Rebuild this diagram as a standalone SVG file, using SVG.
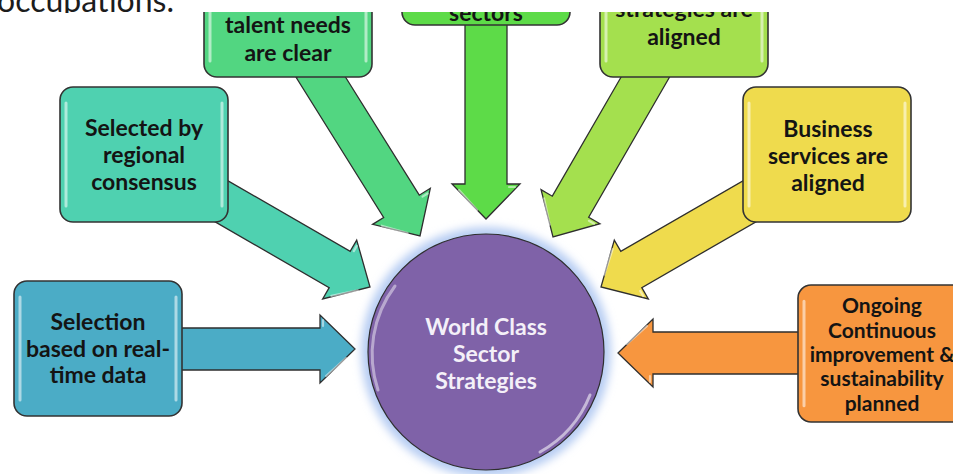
<svg xmlns="http://www.w3.org/2000/svg" xmlns:xlink="http://www.w3.org/1999/xlink" width="953" height="474" viewBox="0 0 953 474">
  <style>
    .lbl{font-family:Lato,"Open Sans","Liberation Sans",sans-serif;font-weight:700;font-size:23px;fill:#141414;text-anchor:middle}
    .small{font-size:21px}
    .hub{fill:#f4f0f8;font-size:23px}
    .head{font-family:Lato,"Open Sans","Liberation Sans",sans-serif;font-size:32px;fill:#1c1c1c}
    .edge{stroke:#2e2e2e;stroke-width:1.3;stroke-linejoin:miter}
    .box{stroke:#333;stroke-width:1.6}
  </style>
  <defs>
    <clipPath id="stage"><rect x="0" y="12" width="953" height="462"/></clipPath>
    <clipPath id="topline"><rect x="0" y="0" width="953" height="13"/></clipPath>
    <!-- block arrow pointing along +x with its tip at the origin, plus a glint on the head -->
    <g id="arrow">
      <path d="M-200,-21H-35V-34L0,0L-35,34V21H-200Z"/>
      <path d="M-29,27L-9,9M-32,-29V-23" stroke="#ffffff" stroke-opacity="0.5" stroke-width="2.2" stroke-linecap="round" fill="none"/>
    </g>
    <!-- rounded card with glossy side bevels -->
    <g id="card">
      <rect width="168" height="135" rx="13"/>
      <path d="M6,16V119M162,16V119" stroke="#ffffff" stroke-opacity="0.55" stroke-width="3" stroke-linecap="round" fill="none"/>
    </g>
    <filter id="halo" x="-20%" y="-20%" width="140%" height="140%">
      <feGaussianBlur stdDeviation="4.5"/>
    </filter>
  </defs>

  <text class="head" x="-3" y="12" clip-path="url(#topline)">occupations.</text>

  <g clip-path="url(#stage)">
    <g id="connectors">
      <use xlink:href="#arrow" class="edge" fill="#4bacc6" transform="translate(355,349)"/>
      <use xlink:href="#arrow" class="edge" fill="#4fd1b0" transform="translate(370,287) rotate(30)"/>
      <use xlink:href="#arrow" class="edge" fill="#52d681" transform="translate(420,236) rotate(58)"/>
      <use xlink:href="#arrow" class="edge" fill="#5ddb48" transform="translate(486,219) rotate(90)"/>
      <use xlink:href="#arrow" class="edge" fill="#a4e04e" transform="translate(553,237) rotate(120)"/>
      <use xlink:href="#arrow" class="edge" fill="#efdb4d" transform="translate(601,287) rotate(150)"/>
      <use xlink:href="#arrow" class="edge" fill="#f7963f" transform="translate(618,353) rotate(180)"/>
    </g>

    <g id="hub">
      <circle cx="486" cy="352" r="125" fill="#b7cdf3" filter="url(#halo)"/>
      <circle cx="486" cy="352" r="118" fill="#7f62a8" stroke="#2e2e2e" stroke-width="1.2"/>
      <path d="M378,390 A113,113 0 0 1 395,286" fill="none" stroke="#ffffff" stroke-opacity="0.45" stroke-width="3" stroke-linecap="round"/>
      <path d="M590,395 A113,113 0 0 1 540,452" fill="none" stroke="#ffffff" stroke-opacity="0.55" stroke-width="3" stroke-linecap="round"/>
      <text class="lbl hub" x="486" y="335">World Class</text>
      <text class="lbl hub" x="486" y="362">Sector</text>
      <text class="lbl hub" x="486" y="389">Strategies</text>
    </g>

    <g id="node-realtime">
      <use xlink:href="#card" class="box" fill="#4bacc6" transform="translate(14,281)"/>
      <text class="lbl" x="98" y="330">Selection</text>
      <text class="lbl" x="98" y="357">based on real-</text>
      <text class="lbl" x="98" y="383">time data</text>
    </g>

    <g id="node-consensus">
      <use xlink:href="#card" class="box" fill="#4fd1b0" transform="translate(60,87)"/>
      <text class="lbl" x="144" y="136">Selected by</text>
      <text class="lbl" x="144" y="163">regional</text>
      <text class="lbl" x="144" y="190">consensus</text>
    </g>

    <g id="node-talent">
      <use xlink:href="#card" class="box" fill="#52d681" transform="translate(204,-58)"/>
      <text class="lbl" x="288" y="33">talent needs</text>
      <text class="lbl" x="288" y="61">are clear</text>
    </g>

    <g id="node-sectors">
      <use xlink:href="#card" class="box" fill="#5ddb48" transform="translate(402,-110)"/>
      <text class="lbl" x="486" y="21">sectors</text>
    </g>

    <g id="node-strategies">
      <use xlink:href="#card" class="box" fill="#a4e04e" transform="translate(600,-58)"/>
      <text class="lbl" x="684" y="17">strategies are</text>
      <text class="lbl" x="684" y="45">aligned</text>
    </g>

    <g id="node-business">
      <use xlink:href="#card" class="box" fill="#efdb4d" transform="translate(743,87)"/>
      <text class="lbl" x="828" y="137">Business</text>
      <text class="lbl" x="828" y="164">services are</text>
      <text class="lbl" x="828" y="191">aligned</text>
    </g>

    <g id="node-improvement">
      <use xlink:href="#card" class="box" fill="#f7963f" transform="translate(798,285) scale(1,1.015)"/>
      <text class="lbl small" x="882" y="313">Ongoing</text>
      <text class="lbl small" x="882" y="338">Continuous</text>
      <text class="lbl small" x="882" y="362">improvement &amp;</text>
      <text class="lbl small" x="882" y="386">sustainability</text>
      <text class="lbl small" x="882" y="411">planned</text>
    </g>
  </g>
</svg>
